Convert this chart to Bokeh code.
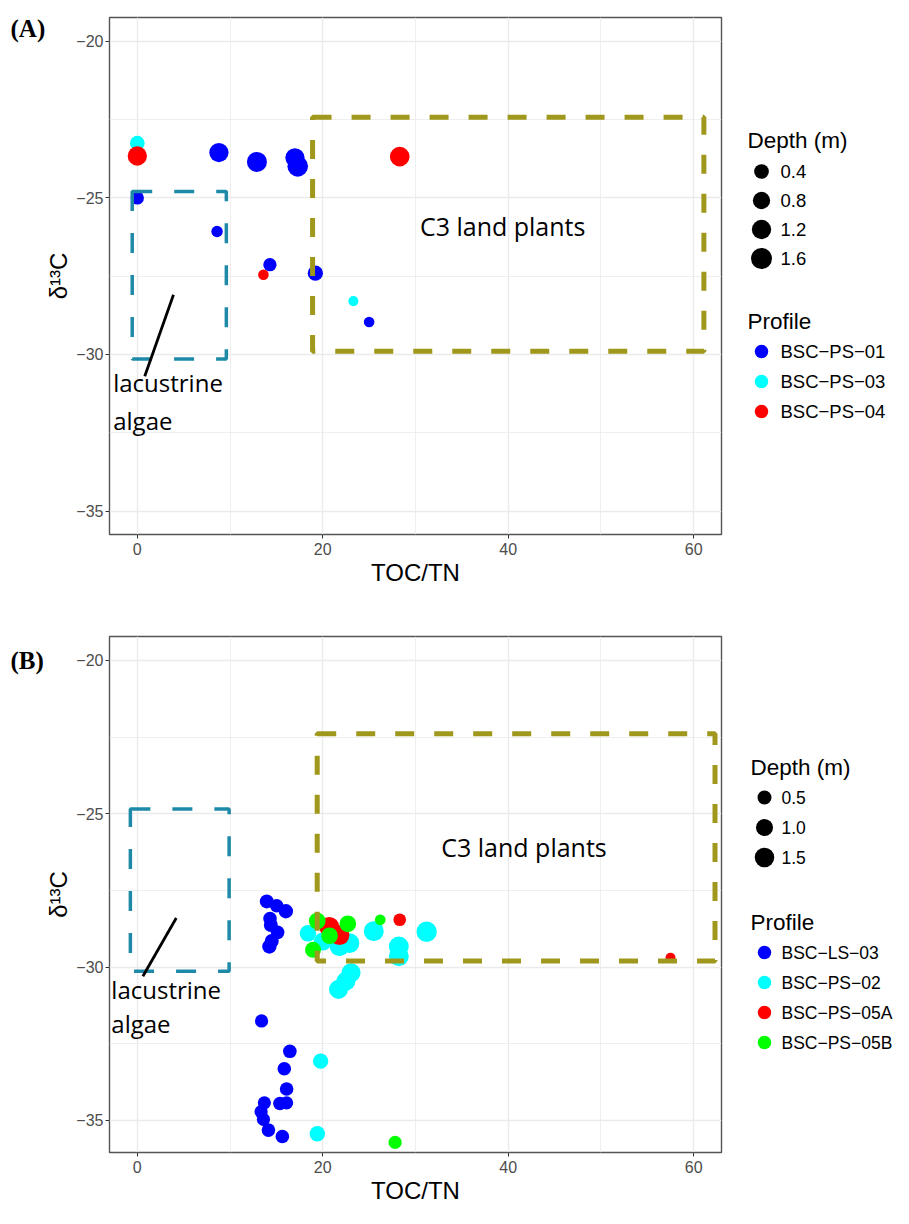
import numpy as np
from bokeh.plotting import figure
from bokeh.layouts import column, row
from bokeh.models import Range1d, FixedTicker, Label, ColumnDataSource
from bokeh.core.properties import value
from bokeh.embed import file_html
from bokeh.resources import INLINE

# ---------------- data: panel A ----------------
a_profiles = ["BSC-PS-01", "BSC-PS-03", "BSC-PS-04"]
a_profile = ["BSC-PS-01"] * 9 + ["BSC-PS-03"] * 2 + ["BSC-PS-04"] * 3
a_toc_tn = [0.0, 8.8, 12.9, 17.0, 17.3, 8.6, 14.3, 19.2, 25.0,
            0.0, 23.3,
            0.0, 13.6, 28.3]
a_d13c = [-25.01, -23.56, -23.86, -23.73, -24.00, -26.08, -27.14, -27.41, -28.97,
          -23.26, -28.30,
          -23.67, -27.46, -23.69]
a_depth = [0.24, 1.20, 1.36, 1.20, 1.50, 0.09, 0.24, 0.48, 0.05,
           0.40, 0.03,
           1.20, 0.05, 1.30]
a_depth_breaks = [0.4, 0.8, 1.2, 1.6]
a_depth_labels = ["0.4", "0.8", "1.2", "1.6"]

# ---------------- data: panel B ----------------
b_profiles = ["BSC-LS-03", "BSC-PS-02", "BSC-PS-05A", "BSC-PS-05B"]
b_profile = ["BSC-LS-03"] * 19 + ["BSC-PS-02"] * 13 + ["BSC-PS-05A"] * 4 + ["BSC-PS-05B"] * 6
b_toc_tn = [13.96, 15.03, 16.02, 14.31, 14.40, 15.13, 14.50, 14.24,
            13.40, 16.45, 15.85, 16.10, 13.70, 15.38, 16.10, 13.35, 13.60, 14.14, 15.64,
            18.4, 20.0, 21.8, 22.87, 25.5, 28.2, 28.2, 31.2, 23.05, 22.5, 21.7, 19.77, 19.41,
            20.7, 21.8, 28.3, 57.5,
            19.4, 22.7, 20.73, 18.95, 26.2, 27.8]
b_d13c = [-27.86, -28.00, -28.18, -28.42, -28.63, -28.87, -29.15, -29.33,
          -31.76, -32.75, -33.32, -33.98, -34.43, -34.45, -34.43, -34.72, -34.97, -35.32, -35.53,
          -28.90, -29.17, -29.33, -29.22, -28.83, -29.33, -29.65, -28.85, -30.19, -30.46, -30.73, -33.07, -35.44,
          -28.69, -28.96, -28.46, -29.70,
          -28.50, -28.59, -28.98, -29.44, -28.46, -35.72]
b_depth = [0.50, 0.45, 0.55, 0.45, 0.50, 0.45, 0.50, 0.55,
           0.40, 0.45, 0.45, 0.45, 0.40, 0.45, 0.40, 0.40, 0.40, 0.45, 0.45,
           0.90, 1.20, 1.50, 1.60, 1.60, 1.60, 1.60, 1.70, 1.40, 1.40, 1.40, 0.70, 0.70,
           1.60, 1.60, 0.34, 0.11,
           0.93, 0.93, 0.93, 0.80, 0.16, 0.41]
b_depth_breaks = [0.5, 1.0, 1.5]
b_depth_labels = ["0.5", "1.0", "1.5"]

profile_colors = {"BSC-PS-01": "#0000FF", "BSC-PS-03": "#00FFFF", "BSC-PS-04": "#FF0000",
                  "BSC-LS-03": "#0000FF", "BSC-PS-02": "#00FFFF", "BSC-PS-05A": "#FF0000",
                  "BSC-PS-05B": "#00FF00"}

x_ticks = [0, 20, 40, 60]
x_minor = [10, 30, 50]
x_tick_labels = ["0", "20", "40", "60"]
y_ticks = [-35, -30, -25, -20]
y_minor = [-32.5, -27.5, -22.5]
y_tick_labels = ["\u221235", "\u221230", "\u221225", "\u221220"]

AX_FONT = "Liberation Sans"
LEG_FONT = "Liberation Sans"
ANN_FONT = "Open Sans"
TEAL = "#1E8AA8"
OLIVE = "#A0981C"
LEFT_W, MAIN_W, LEG_W = 73, 653, 167


def size_a(d):
    return 8.4 + 9.95 * np.sqrt(np.asarray(d, dtype=float))


def size_b(d):
    return 6.5 + 10.6 * np.sqrt(np.asarray(d, dtype=float))


def main_panel(height, top, bottom, yr, toc, d13c, depth, prof, size_fn, ann):
    p = figure(width=MAIN_W, height=height, x_range=Range1d(-3, 63), y_range=Range1d(*yr),
               min_border_left=34, min_border_right=5, min_border_top=top, min_border_bottom=bottom,
               toolbar_location=None, output_backend="svg", background_fill_color="white")
    p.outline_line_color = "#555555"
    p.outline_line_width = 1.4
    for ax, ticks, minor, labels in ((p.xaxis, x_ticks, x_minor, x_tick_labels),
                                     (p.yaxis, y_ticks, y_minor, y_tick_labels)):
        ax.ticker = FixedTicker(ticks=ticks, minor_ticks=minor)
        ax.major_label_overrides = {t: l for t, l in zip(ticks, labels)}
        ax.axis_line_color = None
        ax.minor_tick_line_color = None
        ax.major_tick_line_color = "#333333"
        ax.major_tick_out = 4
        ax.major_tick_in = 0
        ax.major_label_text_font = AX_FONT
        ax.major_label_text_font_size = "16px"
        ax.major_label_text_color = "#4D4D4D"
        ax.axis_label_text_font = AX_FONT
        ax.axis_label_text_font_size = "24px"
        ax.axis_label_text_font_style = "normal"
        ax.axis_label_text_color = "black"
    p.xaxis.axis_label = "TOC/TN"
    p.xaxis.major_label_standoff = 4
    p.yaxis.major_label_standoff = 2
    p.xaxis.axis_label_standoff = 1
    for g, ticks, minor in ((p.xgrid, x_ticks, x_minor), (p.ygrid, y_ticks, y_minor)):
        g.ticker = FixedTicker(ticks=ticks, minor_ticks=minor)
        g.grid_line_color = "#EBEBEB"
        g.grid_line_width = 1.4
        g.minor_grid_line_color = "#EBEBEB"
        g.minor_grid_line_width = 0.8

    src = ColumnDataSource(dict(x=toc, y=d13c, size=size_fn(depth),
                                color=[profile_colors[k] for k in prof]))
    p.scatter("x", "y", size="size", fill_color="color", line_color=None, source=src)

    # reference boxes
    p.quad(left=[ann["algae_box"][0]], right=[ann["algae_box"][1]],
           bottom=[ann["algae_box"][2]], top=[ann["algae_box"][3]],
           fill_color=None, line_color=TEAL, line_width=3.5, line_dash="20 22")
    p.quad(left=[ann["c3_box"][0]], right=[ann["c3_box"][1]],
           bottom=[ann["c3_box"][2]], top=[ann["c3_box"][3]],
           fill_color=None, line_color=OLIVE, line_width=5, line_dash="19 20")
    x0, y0, x1, y1 = ann["line"]
    p.segment(x0=[x0], y0=[y0], x1=[x1], y1=[y1], line_color="black", line_width=2.8)
    p.add_layout(Label(x=ann["c3_text"][0], y=ann["c3_text"][1], text="C3 land plants",
                       text_align="center", text_baseline="middle", text_font=ANN_FONT,
                       text_font_size="25px", text_color="black"))
    for txt, yy in zip(["lacustrine", "algae"], ann["lac_y"]):
        p.add_layout(Label(x=ann["lac_x"], y=yy, text=txt, text_align="left",
                           text_baseline="middle", text_font=ANN_FONT,
                           text_font_size="24px", text_color="black"))
    return p


def side_fig(width, height, top, bottom, x0, frame_top_px, frame_bot_px):
    # side figures share the frame rows of the main panel; ranges are picture pixels
    lf = figure(width=width, height=height, x_range=Range1d(x0, x0 + width),
                y_range=Range1d(frame_bot_px, frame_top_px),
                min_border_left=0, min_border_right=0,
                min_border_top=top, min_border_bottom=bottom,
                x_axis_location=None, y_axis_location=None,
                toolbar_location=None, output_backend="svg")
    lf.grid.grid_line_color = None
    lf.outline_line_color = None
    return lf


def left_panel(height, top, bottom, ftop, fbot, tag, tag_y):
    lf = side_fig(LEFT_W, height, top, bottom, 0, ftop, fbot)
    lf.text(x=[10], y=[tag_y], text=[tag], text_font=value("Liberation Serif"),
            text_font_style="bold", text_font_size=value("25px"),
            text_baseline="middle", text_align="left", text_color="black")
    lf.text(x=[58], y=[(ftop + fbot) / 2], text=["\u03b4\u00b9\u00b3C"], angle=np.pi / 2,
            text_font=value(AX_FONT), text_font_size=value("24px"),
            text_baseline="middle", text_align="center", text_color="black")
    return lf


def legend_panel(height, top, bottom, ftop, fbot, tx, dx, lx, dt_y, d_ys, breaks, labels,
                 size_fn, pt_y, p_ys, profiles, fs):
    lf = side_fig(LEG_W, height, top, bottom, LEFT_W + MAIN_W, ftop, fbot)
    lf.text(x=[tx, tx], y=[dt_y, pt_y], text=["Depth (m)", "Profile"],
            text_font=value(LEG_FONT), text_font_size=value("22.5px"),
            text_baseline="middle", text_align="left", text_color="black")
    lf.scatter(x=[dx] * len(breaks), y=d_ys, size=size_fn(breaks),
               fill_color="black", line_color=None)
    lf.text(x=[lx] * len(labels), y=d_ys, text=labels,
            text_font=value(LEG_FONT), text_font_size=value(fs),
            text_baseline="middle", text_align="left", text_color="black")
    lf.scatter(x=[dx] * len(profiles), y=p_ys, size=13.5,
               fill_color=[profile_colors[k] for k in profiles], line_color=None)
    lf.text(x=[lx] * len(profiles), y=p_ys, text=[k.replace("-", "\u2212") for k in profiles],
            text_font=value(LEG_FONT), text_font_size=value(fs),
            text_baseline="middle", text_align="left", text_color="black")
    return lf


ann_a = dict(algae_box=(-0.55, 9.6, -30.15, -24.8), c3_box=(18.9, 61.1, -29.9, -22.43),
             line=(0.8, -30.7, 3.9, -28.1), c3_text=(39.4, -25.92),
             lac_x=-2.6, lac_y=(-30.9, -32.1))
ann_b = dict(algae_box=(-0.75, 9.9, -30.14, -24.85), c3_box=(19.4, 62.3, -29.8, -22.39),
             line=(0.6, -30.3, 4.2, -28.4), c3_text=(41.7, -26.1),
             lac_x=-2.8, lac_y=(-30.73, -31.85))

HA, HB = 592, 616
TOP_A, BOT_A = 17, 58
TOP_B, BOT_B = 44, 56
FA = (TOP_A, HA - BOT_A)                 # frame rows of panel A in picture pixels
FB = (HA + TOP_B, HA + HB - BOT_B)       # frame rows of panel B in picture pixels

pa = main_panel(HA, TOP_A, BOT_A, (-35.75, -19.25), a_toc_tn, a_d13c, a_depth, a_profile, size_a, ann_a)
pb = main_panel(HB, TOP_B, BOT_B, (-36.05, -19.22), b_toc_tn, b_d13c, b_depth, b_profile, size_b, ann_b)

lfa = left_panel(HA, TOP_A, BOT_A, FA[0], FA[1], "(A)", 28)
lfb = left_panel(HB, TOP_B, BOT_B, FB[0], FB[1], "(B)", 660)

la = legend_panel(HA, TOP_A, BOT_A, FA[0], FA[1], 747, 761, 780, 140, [171, 200, 229, 258],
                  a_depth_breaks, a_depth_labels, size_a, 321, [351, 381, 411], a_profiles, "18.5px")
lb = legend_panel(HB, TOP_B, BOT_B, FB[0], FB[1], 750, 764, 781, 767, [797, 827, 857],
                  b_depth_breaks, b_depth_labels, size_b, 922, [952, 982, 1012, 1042], b_profiles, "17.5px")

layout = column(row(lfa, pa, la, spacing=0), row(lfb, pb, lb, spacing=0), spacing=0)
open("out.html", "w").write(file_html(layout, INLINE))
